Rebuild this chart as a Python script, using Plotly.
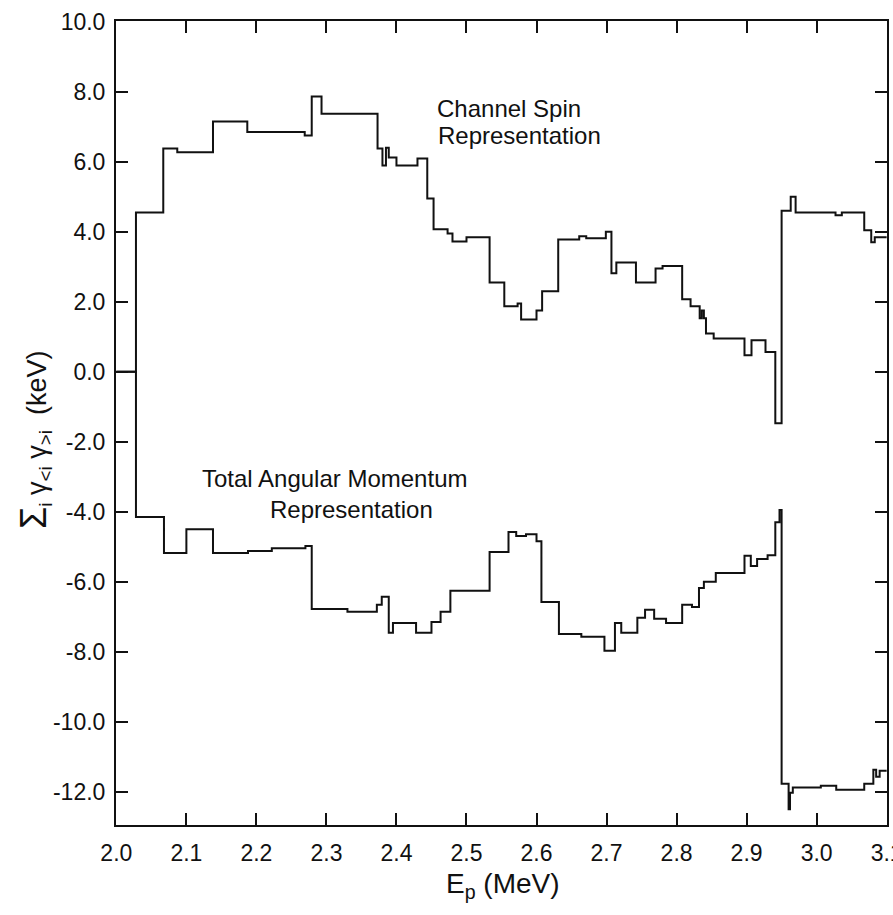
import plotly.graph_objects as go

# Step curves: energy where each level starts (MeV) and the level (keV)
cs_energy = [2.000, 2.028, 2.067, 2.087, 2.138, 2.187, 2.269, 2.279, 2.293, 2.373,
             2.380, 2.385, 2.389, 2.400, 2.430, 2.444, 2.453, 2.473, 2.480, 2.500,
             2.533, 2.554, 2.573, 2.578, 2.600, 2.608, 2.631, 2.661, 2.671, 2.699,
             2.707, 2.714, 2.742, 2.770, 2.780, 2.808, 2.820, 2.833, 2.836, 2.839,
             2.842, 2.853, 2.897, 2.907, 2.927, 2.941, 2.950, 2.963, 2.970, 3.027,
             3.036, 3.068, 3.078, 3.083, 3.100]
cs_value = [0.00, 4.55, 6.38, 6.27, 7.15, 6.85, 6.75, 7.86, 7.37, 6.38,
            5.89, 6.40, 6.12, 5.89, 6.09, 4.95, 4.07, 3.95, 3.72, 3.84,
            2.55, 1.87, 1.95, 1.49, 1.75, 2.30, 3.78, 3.87, 3.81, 4.00,
            2.81, 3.12, 2.55, 2.95, 3.02, 2.07, 1.87, 1.53, 1.75, 1.53,
            1.09, 0.95, 0.47, 0.90, 0.56, -1.47, 4.60, 5.00, 4.55, 4.47,
            4.55, 4.04, 3.70, 3.84, 3.84]

tam_energy = [2.000, 2.028, 2.068, 2.100, 2.138, 2.188, 2.222, 2.270, 2.279, 2.330,
              2.372, 2.379, 2.389, 2.395, 2.428, 2.450, 2.463, 2.477, 2.533, 2.560,
              2.571, 2.585, 2.600, 2.607, 2.632, 2.664, 2.697, 2.712, 2.721, 2.744,
              2.755, 2.768, 2.785, 2.808, 2.822, 2.832, 2.839, 2.856, 2.897, 2.906,
              2.915, 2.930, 2.941, 2.947, 2.950, 2.960, 2.962, 2.966, 3.006, 3.028,
              3.068, 3.081, 3.085, 3.090, 3.100]
tam_value = [0.00, -4.15, -5.18, -4.50, -5.18, -5.12, -5.04, -4.98, -6.78, -6.86,
             -6.66, -6.43, -7.46, -7.18, -7.46, -7.15, -6.86, -6.26, -5.15, -4.58,
             -4.69, -4.64, -4.84, -6.58, -7.49, -7.57, -7.97, -7.18, -7.46, -7.03,
             -6.80, -7.06, -7.18, -6.66, -6.72, -6.18, -6.00, -5.75, -5.26, -5.55,
             -5.35, -5.24, -4.30, -3.95, -11.77, -12.50, -12.03, -11.88, -11.83, -11.94,
             -11.77, -11.37, -11.57, -11.40, -11.40]

x_ticks = [2.0, 2.1, 2.2, 2.3, 2.4, 2.5, 2.6, 2.7, 2.8, 2.9, 3.0, 3.1]
x_tick_labels = ["2.0", "2.1", "2.2", "2.3", "2.4", "2.5", "2.6", "2.7", "2.8", "2.9", "3.0", "3.1"]
y_ticks = [10, 8, 6, 4, 2, 0, -2, -4, -6, -8, -10, -12]
y_tick_labels = ["10.0", "8.0", "6.0", "4.0", "2.0", "0.0", "-2.0", "-4.0",
                 "-6.0", "-8.0", "-10.0", "-12.0"]

FONT = "Liberation Sans, Arial, sans-serif"
INK = "#111111"

fig = go.Figure()
for xs, ys in ((cs_energy, cs_value), (tam_energy, tam_value)):
    fig.add_trace(go.Scatter(x=xs, y=ys, mode="lines", line_shape="hv",
                             line=dict(color=INK, width=2), showlegend=False,
                             hoverinfo="skip"))

axis_common = dict(showgrid=False, zeroline=False, showline=True, linecolor=INK,
                   linewidth=2, mirror="ticks", ticks="inside", ticklen=12,
                   tickwidth=2, tickcolor=INK, ticklabeloverflow="allow",
                   automargin=False,
                   tickfont=dict(family=FONT, size=23, color=INK))

fig.update_xaxes(range=[1.9995, 3.1005], tickvals=x_ticks, ticktext=x_tick_labels,
                 ticklabelstandoff=6, **axis_common)
fig.update_yaxes(range=[-12.95, 10.02], tickvals=y_ticks, ticktext=y_tick_labels,
                 ticklabelstandoff=4, **axis_common)

labels = [
    ("Channel Spin", 2.560, 7.52),
    ("Representation", 2.575, 6.75),
    ("Total Angular Momentum", 2.311, -3.04),
    ("Representation", 2.336, -3.95),
]
for text, lx, ly in labels:
    fig.add_annotation(x=lx, y=ly, xref="x", yref="y", text=text, showarrow=False,
                       xanchor="center", yanchor="middle",
                       font=dict(family=FONT, size=24, color=INK))

fig.add_annotation(x=0.502, y=-0.075, xref="paper", yref="paper",
                   text="E<sub>p</sub> (MeV)", showarrow=False,
                   xanchor="center", yanchor="middle",
                   font=dict(family=FONT, size=28, color=INK))
fig.add_annotation(x=-0.105, y=0.479, xref="paper", yref="paper",
                   text="<span style='font-size:36px'>Σ</span><sub>i</sub> γ<sub>&lt;i</sub> γ<sub>&gt;i</sub>  (keV)",
                   textangle=-90, showarrow=False,
                   xanchor="center", yanchor="middle",
                   font=dict(family=FONT, size=27, color=INK))

fig.update_layout(width=893, height=915,
                  margin=dict(l=116, r=6, t=21, b=90, autoexpand=False),
                  plot_bgcolor="white", paper_bgcolor="white")

fig.write_html("out.html")
